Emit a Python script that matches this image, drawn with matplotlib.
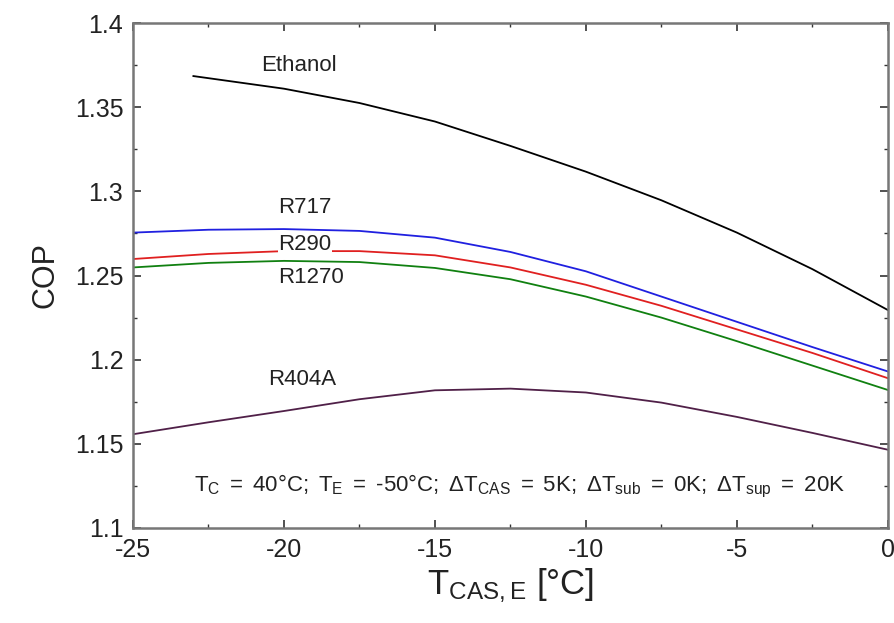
import numpy as np
import matplotlib
matplotlib.use("Agg")
import matplotlib.pyplot as plt
from matplotlib.ticker import MultipleLocator

plt.rcParams["font.family"] = ["Liberation Sans", "DejaVu Sans"]
plt.rcParams["mathtext.fontset"] = "custom"
plt.rcParams["mathtext.rm"] = "Liberation Sans"
plt.rcParams["mathtext.it"] = "Liberation Sans"
plt.rcParams["axes.unicode_minus"] = False

# COP vs cascade evaporating temperature
t_eth = [-23, -20, -17.5, -15, -12.5, -10, -7.5, -5, -2.5, 0]
cop_ethanol = [1.3685, 1.361, 1.3525, 1.3415, 1.327, 1.3117, 1.2947, 1.2755, 1.2538, 1.2295]

t = [-25, -22.5, -20, -17.5, -15, -12.5, -10, -7.5, -5, -2.5, 0]
cop_r717 = [1.2755, 1.2772, 1.2776, 1.2765, 1.2725, 1.2640, 1.2525, 1.2375, 1.2225, 1.2075, 1.193]
cop_r290 = [1.2598, 1.2628, 1.2645, 1.2645, 1.2620, 1.2548, 1.2445, 1.2320, 1.2180, 1.2040, 1.189]
cop_r1270 = [1.2548, 1.2575, 1.2587, 1.2580, 1.2545, 1.2478, 1.2375, 1.2250, 1.2110, 1.1965, 1.182]
cop_r404a = [1.1557, 1.1628, 1.1695, 1.1765, 1.1818, 1.1828, 1.1805, 1.1745, 1.1660, 1.1565, 1.1465]

fig = plt.figure(figsize=(8.95, 6.23), dpi=100)
ax = fig.add_axes([0.1486, 0.1525, 0.8434, 0.8105])

lw = 1.3
ax.plot(t_eth, cop_ethanol, color="black", lw=lw)
ax.plot(t, cop_r717, color="#2020e0", lw=lw)
ax.plot(t, cop_r290, color="#e02020", lw=lw)
ax.plot(t, cop_r1270, color="#108010", lw=lw)
ax.plot(t, cop_r404a, color="#502048", lw=lw)

lab = dict(fontsize=16, ha="center", va="center", color="#222222")
ax.text(-19.5, 1.3745, "Ethanol", **lab)
ax.text(-19.3, 1.2905, "R717", **lab)
ax.text(-19.3, 1.2687, "R290", bbox=dict(facecolor="white", edgecolor="none", pad=0.5), **lab)
ax.text(-19.1, 1.249, "R1270", **lab)
ax.text(-19.4, 1.1885, "R404A", **lab)

ax.text(-12.2, 1.1245,
        r"$\mathregular{T_C\ =\ 40°C;\ T_E\ =\ \text{-50}°C;\ \Delta T_{CAS}\ =\ 5K;"
        r"\ \Delta T_{sub}\ =\ 0K;\ \Delta T_{sup}\ =\ 20K}$",
        fontsize=16, ha="center", va="center", color="#222222")

ax.set_xlim(-25, 0)
ax.set_ylim(1.1, 1.4)
ax.xaxis.set_major_locator(MultipleLocator(5))
ax.xaxis.set_minor_locator(MultipleLocator(2.5))
ax.yaxis.set_minor_locator(MultipleLocator(0.025))
ax.set_yticks([1.1, 1.15, 1.2, 1.25, 1.3, 1.35, 1.4])
ax.set_yticklabels(["1.1", "1.15", "1.2", "1.25", "1.3", "1.35", "1.4"])

ax.tick_params(which="both", direction="in", top=True, right=True,
               color="#333333", labelsize=18, labelcolor="#222222")
ax.tick_params(which="major", length=6, width=1.2, pad=7)
ax.tick_params(which="minor", length=3, width=1.0)
for s in ax.spines.values():
    s.set_color("#777777")
    s.set_linewidth(1.8)

ax.set_ylabel("COP", fontsize=22, labelpad=10, color="#222222")
ax.set_xlabel(r"$\mathregular{T_{CAS,E}}$ [°C]", fontsize=25, labelpad=4, color="#222222")

fig.savefig("out.png", dpi=100)
